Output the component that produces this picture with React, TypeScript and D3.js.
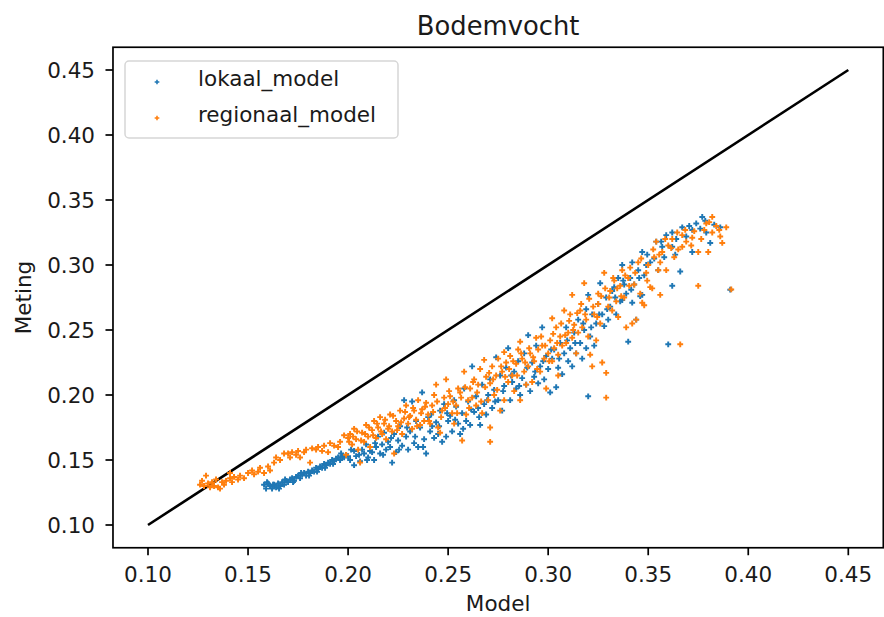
import React from "react";
import * as d3 from "d3";

const chartTitle = "Bodemvocht";
const xLabel = "Model";
const yLabel = "Meting";
const seriesNames = ["lokaal_model", "regionaal_model"];
const seriesColors = ["#1f77b4", "#ff7f0e"];
const xTicks = [0.1, 0.15, 0.2, 0.25, 0.3, 0.35, 0.4, 0.45];
const yTicks = [0.1, 0.15, 0.2, 0.25, 0.3, 0.35, 0.4, 0.45];
const identityLine: [number, number][] = [[0.1, 0.1], [0.45, 0.45]];

const lokaalModel: [number, number][] = [
  [0.158,0.131],[0.159,0.128],[0.160,0.132],[0.161,0.130],[0.162,0.128],[0.163,0.131],[0.164,0.129],[0.165,0.132],[0.166,0.130],[0.167,0.133],[0.168,0.131],[0.169,0.134],[0.170,0.133],[0.171,0.135],[0.172,0.136],[0.173,0.134],[0.174,0.137],[0.175,0.138],[0.176,0.136],[0.177,0.139],[0.178,0.140],[0.179,0.138],[0.180,0.141],[0.181,0.140],[0.182,0.142],[0.183,0.141],[0.184,0.144],[0.185,0.143],[0.186,0.145],[0.187,0.144],[0.188,0.147],[0.189,0.146],[0.190,0.148],[0.191,0.147],[0.192,0.150],[0.193,0.149],[0.194,0.151],[0.195,0.152],[0.196,0.150],[0.197,0.153],[0.198,0.152],[0.199,0.154],[0.200,0.153],
  [0.1595,0.133],[0.1625,0.131],[0.1655,0.128],[0.1685,0.135],[0.1725,0.133],[0.1765,0.140],[0.1805,0.138],[0.1845,0.141],[0.1885,0.144],[0.1925,0.147],[0.1965,0.155],
  [0.201,0.150],[0.203,0.146],[0.203,0.157],[0.204,0.153],[0.206,0.149],[0.207,0.158],[0.208,0.155],[0.209,0.162],[0.210,0.152],
  [0.211,0.157],[0.212,0.156],[0.213,0.150],[0.214,0.160],[0.215,0.168],[0.216,0.155],[0.217,0.162],[0.218,0.171],[0.219,0.158],[0.220,0.164],
  [0.221,0.160],[0.222,0.148],[0.223,0.170],[0.224,0.156],[0.225,0.165],[0.226,0.176],[0.227,0.161],[0.228,0.196],[0.229,0.168],[0.230,0.158],
  [0.231,0.172],[0.232,0.195],[0.233,0.163],[0.234,0.180],[0.235,0.160],[0.236,0.175],[0.237,0.202],[0.238,0.166],[0.239,0.155],[0.240,0.183],
  [0.241,0.172],[0.242,0.176],[0.243,0.167],[0.244,0.179],[0.245,0.170],[0.246,0.188],[0.247,0.164],[0.248,0.193],[0.249,0.168],[0.250,0.180],
  [0.251,0.184],[0.252,0.172],[0.253,0.196],[0.254,0.191],[0.255,0.178],[0.256,0.170],[0.257,0.186],[0.258,0.205],[0.259,0.180],[0.260,0.195],
  [0.261,0.177],[0.262,0.222],[0.263,0.187],[0.264,0.199],[0.265,0.190],[0.266,0.177],[0.267,0.208],[0.268,0.193],[0.269,0.185],[0.270,0.200],
  [0.271,0.212],[0.272,0.190],[0.273,0.204],[0.274,0.229],[0.275,0.196],[0.276,0.215],[0.277,0.188],[0.278,0.207],[0.279,0.221],[0.280,0.236],
  [0.281,0.196],[0.282,0.210],[0.283,0.218],[0.284,0.205],[0.285,0.226],[0.286,0.200],[0.287,0.213],[0.288,0.232],[0.289,0.208],[0.290,0.246],
  [0.291,0.203],[0.292,0.225],[0.293,0.214],[0.294,0.238],[0.295,0.209],[0.296,0.222],[0.297,0.252],[0.298,0.212],[0.299,0.230],[0.300,0.220],
  [0.301,0.202],[0.302,0.228],[0.303,0.235],[0.304,0.206],[0.305,0.221],[0.306,0.240],[0.307,0.216],[0.308,0.232],[0.309,0.252],[0.310,0.226],
  [0.311,0.236],[0.312,0.222],[0.313,0.248],[0.314,0.232],[0.315,0.258],[0.316,0.240],[0.317,0.228],[0.318,0.250],[0.319,0.266],[0.319,0.236],
  [0.320,0.199],[0.320,0.277],[0.321,0.245],[0.322,0.262],[0.323,0.238],[0.324,0.255],[0.325,0.270],[0.326,0.286],[0.327,0.262],[0.328,0.253],[0.329,0.275],[0.330,0.258],
  [0.331,0.268],[0.332,0.280],[0.333,0.283],[0.334,0.262],[0.335,0.290],[0.336,0.272],[0.337,0.300],[0.337,0.273],[0.338,0.285],[0.339,0.278],
  [0.340,0.241],[0.341,0.290],[0.342,0.271],[0.342,0.302],[0.343,0.285],[0.344,0.258],[0.345,0.296],[0.346,0.276],[0.347,0.277],[0.347,0.310],[0.348,0.292],[0.349,0.300],
  [0.351,0.302],[0.353,0.305],[0.354,0.318],[0.355,0.296],[0.357,0.314],[0.358,0.306],[0.359,0.323],[0.360,0.239],[0.362,0.325],[0.362,0.314],[0.362,0.284],[0.364,0.320],[0.366,0.295],[0.367,0.329],[0.369,0.322],[0.372,0.327],[0.372,0.310],[0.374,0.332],[0.376,0.328],[0.377,0.337],[0.379,0.325],[0.381,0.317],[0.383,0.331],[0.386,0.329],[0.391,0.281],
  [0.2015,0.158],[0.2055,0.154],[0.2095,0.150],[0.2135,0.163],[0.2175,0.154],[0.2215,0.167],[0.2255,0.158],[0.2295,0.175],[0.2335,0.168],[0.2375,0.160],[0.2415,0.185],[0.2455,0.176],[0.2495,0.186],[0.2535,0.181],[0.2575,0.174],[0.2615,0.189],[0.2655,0.183],[0.2695,0.196],[0.2735,0.195],[0.2775,0.203],[0.2815,0.215],[0.2855,0.207],[0.2895,0.221],[0.2935,0.218],[0.2975,0.226],[0.3015,0.235],[0.3055,0.228],[0.3095,0.242],[0.3135,0.240],[0.3175,0.255],[0.3215,0.252],[0.3255,0.262],[0.3295,0.266],[0.3335,0.275],[0.3375,0.288],[0.3415,0.281],[0.3455,0.290],[0.3495,0.308],[0.3565,0.318],[0.3635,0.308],[0.3705,0.330],[0.3785,0.334]
];

const regionaalModel: [number, number][] = [
  [0.126,0.131],[0.127,0.134],[0.128,0.130],[0.129,0.138],[0.130,0.132],[0.131,0.129],[0.132,0.133],[0.133,0.130],[0.134,0.135],[0.135,0.129],[0.136,0.128],[0.137,0.133],[0.138,0.131],[0.139,0.134],[0.141,0.136],[0.141,0.140],[0.142,0.133],[0.143,0.137],[0.145,0.135],[0.146,0.138],[0.148,0.136],[0.150,0.140],[0.152,0.142],[0.153,0.139],[0.155,0.141],[0.156,0.144],[0.158,0.140],[0.160,0.145],[0.161,0.142],[0.163,0.148],[0.164,0.152],[0.166,0.150],[0.168,0.155],[0.170,0.155],[0.171,0.152],[0.172,0.156],[0.174,0.154],[0.175,0.157],[0.176,0.152],[0.178,0.156],[0.179,0.158],[0.181,0.148],[0.182,0.159],[0.184,0.158],[0.185,0.160],[0.187,0.157],[0.188,0.161],[0.190,0.156],[0.191,0.163],[0.193,0.161],[0.195,0.160],[0.196,0.164],[0.198,0.169],[0.199,0.154],[0.200,0.167],
  [0.201,0.170],[0.202,0.162],[0.203,0.174],[0.204,0.166],[0.205,0.158],[0.206,0.148],[0.207,0.171],[0.208,0.164],[0.209,0.177],[0.210,0.168],
  [0.211,0.160],[0.212,0.173],[0.213,0.180],[0.214,0.167],[0.215,0.175],[0.216,0.183],[0.217,0.170],[0.218,0.178],[0.219,0.166],[0.220,0.174],
  [0.221,0.185],[0.222,0.172],[0.223,0.155],[0.224,0.180],[0.225,0.176],[0.226,0.188],[0.227,0.170],[0.228,0.182],[0.229,0.192],[0.230,0.178],
  [0.231,0.184],[0.232,0.174],[0.233,0.188],[0.234,0.181],[0.235,0.196],[0.236,0.177],[0.237,0.189],[0.238,0.180],[0.239,0.194],[0.240,0.185],
  [0.241,0.178],[0.242,0.192],[0.243,0.200],[0.244,0.208],[0.245,0.175],[0.246,0.171],[0.247,0.188],[0.248,0.198],[0.249,0.212],[0.250,0.193],
  [0.251,0.199],[0.252,0.186],[0.253,0.178],[0.254,0.192],[0.255,0.205],[0.256,0.202],[0.257,0.165],[0.258,0.218],[0.259,0.185],[0.260,0.196],
  [0.261,0.205],[0.262,0.198],[0.263,0.212],[0.264,0.192],[0.265,0.208],[0.266,0.220],[0.267,0.186],[0.268,0.227],[0.269,0.214],[0.270,0.196],
  [0.271,0.209],[0.271,0.175],[0.271,0.164],[0.272,0.222],[0.273,0.200],[0.274,0.215],[0.275,0.228],[0.276,0.188],[0.277,0.218],[0.278,0.196],[0.278,0.233],[0.279,0.225],[0.280,0.210],
  [0.281,0.230],[0.282,0.215],[0.283,0.203],[0.284,0.224],[0.285,0.235],[0.286,0.196],[0.286,0.241],[0.287,0.228],[0.288,0.218],[0.289,0.208],[0.290,0.222],
  [0.291,0.232],[0.292,0.210],[0.293,0.226],[0.294,0.244],[0.295,0.235],[0.296,0.218],[0.297,0.238],[0.298,0.228],[0.299,0.205],[0.300,0.232],[0.302,0.259],
  [0.301,0.242],[0.302,0.226],[0.303,0.236],[0.304,0.252],[0.305,0.231],[0.306,0.245],[0.307,0.238],[0.308,0.265],[0.309,0.240],[0.310,0.248],[0.305,0.215],
  [0.311,0.262],[0.312,0.277],[0.312,0.244],[0.313,0.254],[0.314,0.232],[0.315,0.248],[0.316,0.265],[0.317,0.252],[0.318,0.286],[0.319,0.258],[0.320,0.245],
  [0.321,0.231],[0.322,0.222],[0.323,0.262],[0.324,0.242],[0.325,0.270],[0.326,0.255],[0.327,0.225],[0.328,0.294],[0.329,0.217],[0.329,0.198],[0.330,0.268],[0.325,0.278],
  [0.331,0.280],[0.332,0.265],[0.333,0.288],[0.334,0.272],[0.335,0.260],[0.336,0.284],[0.337,0.296],[0.338,0.275],[0.339,0.252],[0.340,0.290],
  [0.341,0.298],[0.342,0.255],[0.343,0.285],[0.344,0.258],[0.345,0.302],[0.346,0.278],[0.347,0.271],[0.348,0.269],[0.349,0.294],[0.350,0.300],[0.351,0.283],
  [0.352,0.282],[0.353,0.306],[0.354,0.318],[0.355,0.296],[0.356,0.277],[0.356,0.302],[0.357,0.310],[0.359,0.296],[0.360,0.315],
  [0.362,0.320],[0.363,0.306],[0.365,0.312],[0.366,0.239],[0.367,0.323],[0.367,0.314],[0.369,0.318],
  [0.372,0.321],[0.373,0.326],[0.375,0.284],[0.375,0.310],[0.378,0.327],[0.379,0.332],
  [0.380,0.310],[0.382,0.337],[0.382,0.325],[0.384,0.330],[0.386,0.322],[0.387,0.317],[0.389,0.329],[0.3915,0.2812],
  [0.2005,0.164],[0.2025,0.168],[0.2045,0.172],[0.2065,0.165],[0.2085,0.170],[0.2105,0.175],[0.2125,0.169],[0.2145,0.178],[0.2165,0.172],[0.2185,0.181],[0.2205,0.176],[0.2225,0.184],[0.2245,0.173],[0.2265,0.179],[0.2285,0.187],[0.2305,0.183],[0.2325,0.190],[0.2345,0.176],[0.2365,0.186],[0.2385,0.191],[0.2405,0.180],[0.2425,0.187],[0.2445,0.195],[0.2465,0.183],[0.2485,0.190],[0.2505,0.203],[0.2525,0.195],[0.2545,0.186],[0.2565,0.198],[0.2585,0.206],[0.2605,0.190],[0.2625,0.210],[0.2645,0.202],[0.2665,0.195],[0.2685,0.206],[0.2705,0.217],[0.2725,0.212],[0.2745,0.204],[0.2765,0.222],[0.2785,0.214],[0.2805,0.220],[0.2825,0.226],[0.2845,0.215],[0.2865,0.232],[0.2885,0.225],[0.2905,0.236],[0.2925,0.229],[0.2945,0.220],[0.2965,0.245],[0.2985,0.238],[0.3005,0.226],[0.3025,0.247],[0.3045,0.240],[0.3065,0.255],[0.3085,0.246],[0.3105,0.257],[0.3125,0.250],[0.3145,0.263],[0.3165,0.270],[0.3185,0.262],[0.3205,0.274],[0.3225,0.268],[0.3245,0.260],[0.3265,0.276],[0.3285,0.282],[0.3305,0.275],[0.3325,0.290],[0.3345,0.282],[0.3365,0.276],[0.3385,0.292],[0.3405,0.284],[0.3435,0.294],[0.3465,0.305],[0.3495,0.288],[0.3525,0.312],[0.3555,0.308],[0.3585,0.320],[0.3615,0.313],[0.3645,0.325],[0.3685,0.327],[0.3715,0.315],[0.3765,0.320],[0.3805,0.333],[0.3855,0.327]
];

const series = [lokaalModel, regionaalModel];

export default function App() {
  const W = 884;
  const H = 617;
  const x = d3.scaleLinear().domain([0.1, 0.45]).range([148, 848.3]);
  const y = d3.scaleLinear().domain([0.1, 0.45]).range([525, 70]);
  const x0 = x(0.0825), x1 = x(0.4675);
  const y0 = y(0.0825), y1 = y(0.4675);
  const fmt = d3.format(".2f");
  const cross = d3.symbol(d3.symbolCross, 19)() as string;
  const line = d3.line<[number, number]>().x(d => x(d[0])).y(d => y(d[1]));
  const font = "DejaVu Sans, sans-serif";
  const textColor = "#1a1a1a";

  return (
    <svg width={W} height={H} style={{ position: "absolute", left: 0, top: 0, display: "block", background: "#fff" }} fontFamily={font}>
      <rect x={0} y={0} width={W} height={H} fill="#fff" />
      <text x={(x0 + x1) / 2} y={35} textAnchor="middle" fontSize={25.8} fill={textColor}>{chartTitle}</text>

      <path d={line(identityLine) as string} stroke="#000" strokeWidth={2.6} fill="none" />

      {series.map((pts, si) => (
        <g key={si} fill={seriesColors[si]}>
          {pts.map((p, i) => (
            <path key={i} d={cross} transform={`translate(${x(p[0])},${y(p[1])})`} />
          ))}
        </g>
      ))}

      <rect x={x0} y={y1} width={x1 - x0} height={y0 - y1} fill="none" stroke="#000" strokeWidth={1.7} />

      {xTicks.map((t, i) => (
        <g key={i}>
          <line x1={x(t)} x2={x(t)} y1={y0} y2={y0 + 7.5} stroke="#000" strokeWidth={1.7} />
          <text x={x(t)} y={582} textAnchor="middle" fontSize={21.5} fill={textColor}>{fmt(t)}</text>
        </g>
      ))}
      {yTicks.map((t, i) => (
        <g key={i}>
          <line x1={x0 - 7.5} x2={x0} y1={y(t)} y2={y(t)} stroke="#000" strokeWidth={1.7} />
          <text x={95} y={y(t)} dy="0.36em" textAnchor="end" fontSize={21.5} fill={textColor}>{fmt(t)}</text>
        </g>
      ))}

      <text x={(x0 + x1) / 2} y={611} textAnchor="middle" fontSize={21.5} fill={textColor}>{xLabel}</text>
      <text transform={`translate(31,${(y0 + y1) / 2}) rotate(-90)`} textAnchor="middle" fontSize={21.5} fill={textColor}>{yLabel}</text>

      <g>
        <rect x={125} y={61} width={273} height={77} rx={4} fill="#fff" fillOpacity={0.8} stroke="#d6d6d6" strokeWidth={1.5} />
        {seriesNames.map((n, i) => (
          <g key={i}>
            <path d={cross} transform={`translate(157,${82 + i * 36}) scale(0.8)`} fill={seriesColors[i]} />
            <text x={198} y={84 + i * 36} dy="0.1em" fontSize={21.5} fill={textColor}>{n}</text>
          </g>
        ))}
      </g>
    </svg>
  );
}
